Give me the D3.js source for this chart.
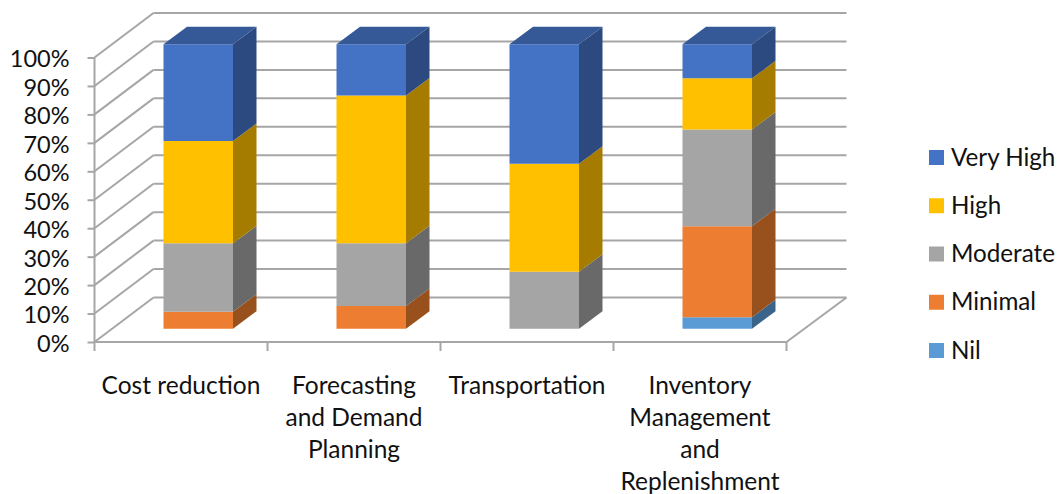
<!DOCTYPE html>
<html>
<head>
<meta charset="utf-8">
<script src="https://cdn.jsdelivr.net/npm/d3@7"></script>
<style>
  html, body { margin: 0; padding: 0; background: #fff; }
  svg { display: block; }
  text { font-family: Lato, "Open Sans", sans-serif; fill: #111; }
</style>
</head>
<body>
<svg id="chart" width="1059" height="494"></svg>
<script>
const categories = [
  ["Cost reduction"],
  ["Forecasting", "and Demand", "Planning"],
  ["Transportation"],
  ["Inventory", "Management", "and", "Replenishment"]
];
const seriesNames = ["Nil", "Minimal", "Moderate", "High", "Very High"];
const nil      = [0, 0, 0, 4];
const minimal  = [6, 8, 0, 32];
const moderate = [24, 22, 20, 34];
const high     = [36, 52, 38, 18];
const veryHigh = [34, 18, 42, 12];
const tickValues = d3.range(0, 101, 10);

const frontColors = ["#5b9bd5", "#ed7d31", "#a5a5a5", "#ffc000", "#4472c4"];
const sideColors  = ["#3a648a", "#98511d", "#696969", "#a67c00", "#2c4a80"];
const topColor    = "#355896";
const wallColor   = "#a6a6a6";

const svg = d3.select("#chart");

// Oblique projection: the floor recedes up and to the right.
const wall = { dx: 59, dy: -44.5 };
const barDepth = { dx: 23.5, dy: -17.5 };
const barLift = 13.3;     // front face of a column sits this far above the axis plane
const barOffset = 69;     // column's left edge from the start of its band
const barWidth = 69.5;

const x = d3.scaleBand().domain(d3.range(categories.length)).range([94.5, 786.5]);
const y = d3.scaleLinear().domain([0, 100]).range([342, 57.5]);

const poly = (pts, fill) => svg.append("polygon")
  .attr("points", pts.map(p => p.join(",")).join(" "))
  .attr("fill", fill);
const seg = (x1, y1, x2, y2) => svg.append("line")
  .attr("x1", x1).attr("y1", y1).attr("x2", x2).attr("y2", y2)
  .attr("stroke", wallColor).attr("stroke-width", 2);

// Back wall gridlines, side wall diagonals and floor
const backX = x.range()[0] + wall.dx;
const rightX = x.range()[1] + wall.dx + 1;
tickValues.forEach(t => {
  seg(x.range()[0], y(t), backX, y(t) + wall.dy);
  seg(backX, y(t) + wall.dy, rightX, y(t) + wall.dy);
});
seg(x.range()[1], y(0), rightX, y(0) + wall.dy);

// Left and bottom axes with their tick marks
const yAxis = d3.axisLeft(y).tickValues(tickValues).tickSize(7).tickPadding(18).tickFormat(d => d + "%");
const yG = svg.append("g").attr("transform", `translate(${x.range()[0]},0)`).call(yAxis);
yG.selectAll(".tick line").attr("stroke", wallColor).attr("stroke-width", 2);
yG.select(".domain").attr("stroke", wallColor).attr("stroke-width", 2).attr("d", `M0,${y(100)}V${y(0)}`);
yG.selectAll("text").attr("font-size", 23.5).attr("font-family", "Lato").attr("fill", "#111").attr("dy", "0.4em");

seg(x.range()[0], y(0), x.range()[1], y(0));
d3.range(categories.length + 1).forEach(i => {
  const px = x.range()[0] + i * x.step();
  seg(px, y(0), px, y(0) + 9);
});

// Stacked columns
const rows = categories.map((_, i) => ({
  i, Nil: nil[i], Minimal: minimal[i], Moderate: moderate[i], High: high[i], "Very High": veryHigh[i]
}));
const stacked = d3.stack().keys(seriesNames)(rows);

categories.forEach((_, i) => {
  const x0 = x(i) + barOffset;
  const x1 = x0 + barWidth;
  stacked.forEach((layer, s) => {
    const [v0, v1] = layer[i];
    if (v1 <= v0) return;
    const yb = y(v0) - barLift;
    const yt = y(v1) - barLift;
    poly([[x1, yb], [x1 + barDepth.dx, yb + barDepth.dy], [x1 + barDepth.dx, yt + barDepth.dy], [x1, yt]], sideColors[s]);
    poly([[x0, yb], [x1, yb], [x1, yt], [x0, yt]], frontColors[s]);
    if (v1 === 100) {
      poly([[x0, yt], [x1, yt], [x1 + barDepth.dx, yt + barDepth.dy], [x0 + barDepth.dx, yt + barDepth.dy]], topColor);
    }
  });
});

// Category labels, wrapped over several lines
const catG = svg.append("g").attr("text-anchor", "middle");
categories.forEach((lines, i) => {
  lines.forEach((line, k) => {
    catG.append("text")
      .attr("x", x(i) + x.step() / 2)
      .attr("y", 393.5 + k * 32)
      .attr("font-size", 24.5)
      .text(line);
  });
});

// Legend, top entry first
const legendY = d3.scalePoint().domain(seriesNames.slice().reverse()).range([157.5, 350.5]);
seriesNames.forEach((name, s) => {
  svg.append("rect")
    .attr("x", 929).attr("y", legendY(name) - 7.5)
    .attr("width", 15).attr("height", 15)
    .attr("fill", frontColors[s]);
  svg.append("text")
    .attr("x", 951).attr("y", legendY(name) + 8)
    .attr("font-size", 24.2)
    .text(name);
});
</script>
</body>
</html>
